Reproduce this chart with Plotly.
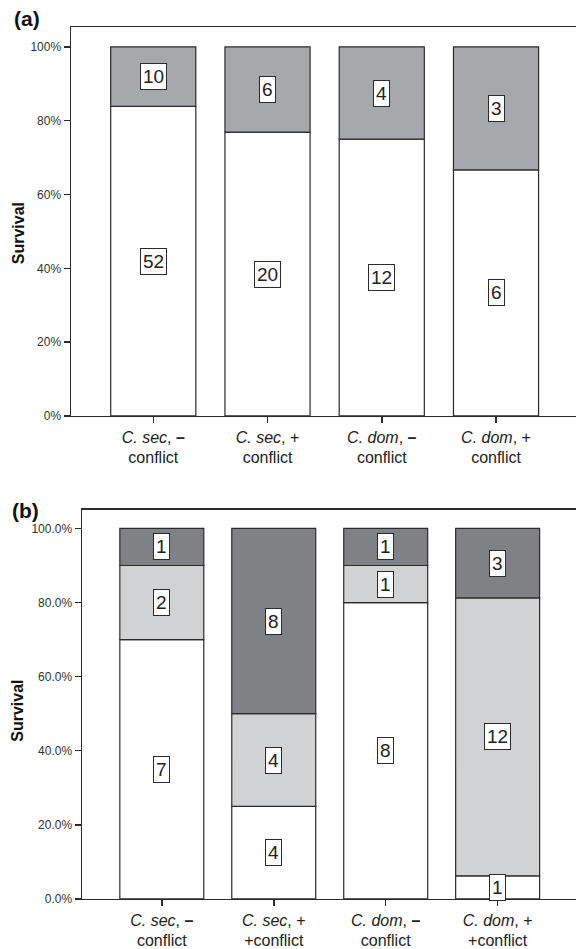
import plotly.graph_objects as go

# ---------------- data ----------------
tick_labels_a = ["<i>C. sec</i>, <b>–</b><br>conflict", "<i>C. sec</i>, +<br>conflict",
                 "<i>C. dom</i>, <b>–</b><br>conflict", "<i>C. dom</i>, +<br>conflict"]
tick_labels_b = ["<i>C. sec</i>, <b>–</b><br>conflict", "<i>C. sec</i>, +<br>+conflict",
                 "<i>C. dom</i>, <b>–</b><br>conflict", "<i>C. dom</i>, +<br>+conflict"]
survived_a = [52, 20, 12, 6]
died_a = [10, 6, 4, 3]

white_b = [7, 4, 8, 1]
light_b = [2, 4, 1, 12]
dark_b = [1, 8, 1, 3]

yticks = [0, 20, 40, 60, 80, 100]
yticktext_a = ["0%", "20%", "40%", "60%", "80%", "100%"]
yticktext_b = ["0.0%", "20.0%", "40.0%", "60.0%", "80.0%", "100.0%"]

# ---------------- styling ----------------
W = 576
H_REF = 949          # target picture height used for placement
H = 957              # rendered figure height (picture is compressed slightly)
LINE = "#2b2b2b"
FONT = "Liberation Sans, Arial, sans-serif"
GRAY_A = "#a7a8ab"
LIGHT_B = "#d1d2d4"
DARK_B = "#808184"

fig = go.Figure()

def pct(series_list):
    totals = [sum(v) for v in zip(*series_list)]
    return [[100.0 * v / t for v, t in zip(s, totals)] for s in series_list]

def add_panel(series, colors, xaxis, yaxis, width):
    ps = pct(series)
    x = list(range(len(series[0])))
    base = [0.0] * len(x)
    for s, p, c in zip(series, ps, colors):
        fig.add_trace(go.Bar(
            x=x, y=p, base=base[:], width=width, xaxis=xaxis, yaxis=yaxis,
            marker=dict(color=c, line=dict(color=LINE, width=1.2)),
            showlegend=False, hoverinfo="skip"))
        for i in x:
            if s[i] > 0:
                fig.add_annotation(
                    x=i, y=base[i] + p[i] / 2, xref=xaxis, yref=yaxis,
                    text=str(s[i]), showarrow=False,
                    font=dict(family=FONT, size=19, color="#222"),
                    bgcolor="white", bordercolor=LINE, borderwidth=1, borderpad=2)
        base = [b + v for b, v in zip(base, p)]

add_panel([survived_a, died_a], ["white", GRAY_A], "x", "y", 0.745)
add_panel([white_b, light_b, dark_b], ["white", LIGHT_B, DARK_B], "x2", "y2", 0.75)

def yfrac(px):
    return (H_REF - px) / H_REF

axis_common = dict(showline=True, linecolor=LINE, linewidth=1.5, ticks="outside",
                   ticklen=6, tickcolor=LINE, tickwidth=1.5, showgrid=False,
                   zeroline=False, fixedrange=True)

fig.update_layout(
    width=W, height=H, margin=dict(l=0, r=0, t=0, b=0),
    paper_bgcolor="white", plot_bgcolor="white", barmode="overlay",
    font=dict(family=FONT, color="#222"),
    xaxis=dict(domain=[71 / W, 1], range=[-0.72, 3.70], anchor="y", mirror=True,
               tickvals=[0, 1, 2, 3], ticktext=tick_labels_a,
               tickfont=dict(size=16, color="#222"), **axis_common),
    yaxis=dict(domain=[yfrac(415.5), yfrac(27)], range=[0, 105.4], anchor="x",
               tickvals=yticks, ticktext=yticktext_a,
               tickfont=dict(size=12, color="#333"), **axis_common),
    xaxis2=dict(domain=[82 / W, 1], range=[-0.713, 3.70], anchor="y2", mirror=True,
                tickvals=[0, 1, 2, 3], ticktext=tick_labels_b,
                tickfont=dict(size=16, color="#222"), **axis_common),
    yaxis2=dict(domain=[yfrac(898), yfrac(509)], range=[0, 105.1], anchor="x2",
                tickvals=yticks, ticktext=yticktext_b,
                tickfont=dict(size=12, color="#333"), **axis_common),
)

# panel letters and y titles
for txt, x, y in [("(a)", 12, 18), ("(b)", 10, 510)]:
    fig.add_annotation(text=f"<b>{txt}</b>", x=x / W, y=yfrac(y), xref="paper", yref="paper",
                       xanchor="left", yanchor="middle", showarrow=False,
                       font=dict(family=FONT, size=21, color="#111"))
for y in [233, 710]:
    fig.add_annotation(text="<b>Survival</b>", x=18 / W, y=yfrac(y), xref="paper", yref="paper",
                       xanchor="center", yanchor="middle", textangle=-90, showarrow=False,
                       font=dict(family=FONT, size=16, color="#111"))

post = (
    "var d=document.documentElement,b=document.body;"
    "d.style.margin='0';d.style.padding='0';d.style.overflow='hidden';"
    "b.style.margin='0';b.style.padding='0';b.style.overflow='hidden';"
)
fig.write_html("out.html", config={"displayModeBar": False, "staticPlot": True},
               post_script=post)
